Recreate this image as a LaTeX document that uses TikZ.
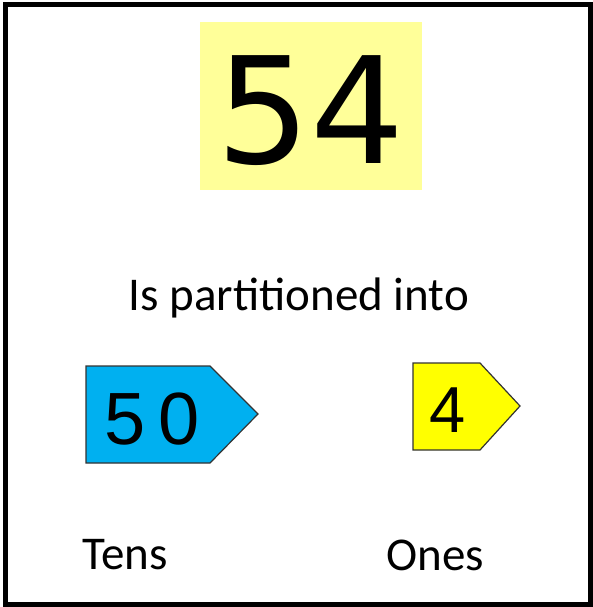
\documentclass[tikz,border=0pt]{standalone}
\usepackage{fontspec}
\setmainfont{Carlito}
\newfontfamily\digitfont{DejaVu Sans}
\newfontfamily\monofont{Liberation Sans}
\definecolor{paleyellow}{RGB}{255,255,153}
\definecolor{tensblue}{RGB}{0,176,240}
\definecolor{onesyellow}{RGB}{255,255,0}
\begin{document}
\begin{tikzpicture}[x=1pt,y=-1pt,
  label/.style={font=\fontsize{47}{54}\selectfont, inner sep=0pt, anchor=center},
  tag/.style={draw=black!80, line width=1.2pt, line join=miter}]
\useasboundingbox (0,0) rectangle (593,607);
\draw[line width=5pt] (5,5) rectangle (590.5,604);
% big number
\node[fill=paleyellow, minimum width=222pt, minimum height=168pt, inner sep=0pt] (num) at (311,106) {};
\node[font=\digitfont\fontsize{148}{150}\selectfont, inner sep=0pt] (numtext) at (311,111) {54};
\node[label] (part) at (299,298) {Is partitioned into};
% tens tag
\draw[tag, fill=tensblue] (86,366) -- (210,366) -- (258,414) -- (210,463) -- (86,463) -- cycle;
\node[font=\monofont\fontsize{74}{76}\selectfont, inner sep=0pt] (tensval) at (152,419) {5\,0};
% ones tag
\draw[tag, fill=onesyellow] (413,363) -- (480,363) -- (520,406) -- (480,450) -- (413,450) -- cycle;
\node[font=\monofont\fontsize{65}{67}\selectfont, inner sep=0pt] (onesval) at (448,410) {4};
\node[label] (tens) at (125,555) {Tens};
\node[label] (ones) at (435,555) {Ones};
\end{tikzpicture}
\end{document}
